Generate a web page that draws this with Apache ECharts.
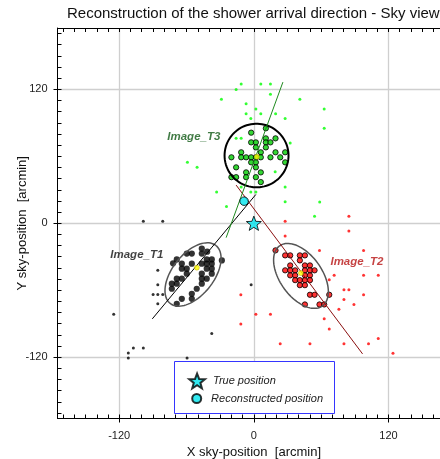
<!DOCTYPE html>
<html><head><meta charset="utf-8">
<script src="https://cdn.jsdelivr.net/npm/echarts@6/dist/echarts.min.js"></script>
<style>html,body{margin:0;padding:0;background:#fff}#c{width:440px;height:459px}</style>
</head><body><div id="c"></div>
<script>
const majorTicks = [-120, 0, 120];
const minorTicks = [-170,-160,-150,-140,-130,-120,-110,-100,-90,-80,-70,-60,-50,-40,-30,-20,-10,0,10,20,30,40,50,60,70,80,90,100,110,120,130,140,150,160,170];

const t1Pixels = [[-46.4,-22.7],[-41.6,-25.5],[-59.8,-27.2],[-55.3,-27.2],[-46.4,-27.2],
  [-72.0,-35.9],[-68.7,-32.4],[-42.0,-32.4],[-37.5,-32.4],[-28.5,-33.3],
  [-64.2,-36.2],[-55.3,-36.2],[-46.4,-36.2],[-42.0,-36.2],[-37.5,-36.2],
  [-64.2,-40.7],[-59.8,-40.7],[-42.0,-40.7],[-37.5,-40.7],
  [-59.8,-45.2],[-46.4,-45.2],[-37.5,-45.2],
  [-68.7,-49.7],[-64.2,-49.7],[-46.4,-49.7],[-42.0,-49.7],
  [-73.1,-54.2],[-68.7,-54.2],[-46.4,-54.2],
  [-73.1,-58.7],[-50.9,-58.7],[-55.3,-63.2],
  [-64.2,-67.7],[-55.3,-67.7],[-68.7,-72.2]];
const t1Noise = [[-98.5,1.8],[-81.2,1.8],[-85.6,-42.2],[-85.6,-55.1],[-89.8,-63.8],[-85.6,-63.8],[-81.2,-63.8],[-85.6,-72.2],[-124.9,-81.5],[-37.5,-98.9],[-107.4,-111.7],[-98.5,-111.7],[-111.9,-116.2],[-111.9,-120.7],[-59.5,-120.7],[-2.4,-55.1]];

const t2Pixels = [[19.3,-24.3],[27.9,-28.8],[32.4,-28.8],[41.0,-28.8],[45.5,-28.8],[41.0,-33.3],
  [32.4,-37.8],[45.5,-37.8],[50.0,-37.8],
  [27.9,-42.2],[32.4,-42.2],[36.8,-42.2],[45.5,-42.2],[50.0,-42.2],[54.1,-42.2],
  [32.4,-46.7],[36.8,-46.7],[45.5,-46.7],[50.0,-46.7],
  [36.8,-51.0],[41.0,-51.0],[45.5,-51.0],[50.0,-51.0],
  [41.0,-55.5],[45.5,-55.5],
  [50.0,-64.1],[54.1,-64.1],[67.2,-64.1],
  [45.5,-72.8],[58.5,-72.8],[62.7,-72.8]];
const t2Noise = [[84.7,6.3],[27.9,1.8],[84.7,-6.9],[27.9,-11.4],[58.5,-24.5],[97.8,-24.5],[71.6,-46.5],[97.8,-46.5],[110.9,-46.5],[67.2,-50.6],[80.3,-59.6],[84.7,-59.6],[-11.6,-64.1],[97.8,-64.1],[80.3,-68.3],[89.2,-72.8],[75.8,-77.0],[1.8,-81.5],[14.8,-81.5],[62.7,-85.7],[-11.6,-90.2],[67.2,-94.7],[110.9,-103.4],[102.2,-107.9],[23.5,-107.9],[50.0,-107.9],[80.3,-107.9],[124.0,-116.6]];

const t3Pixels = [[-2.4,81.2],[10.7,85.1],[-2.4,72.5],[1.8,72.5],[10.7,76.1],[10.7,72.5],[19.3,76.1],[14.8,72.5],[1.8,68.0],[10.7,68.0],[-11.3,63.6],[6.2,63.6],[19.3,63.6],[27.9,63.6],[-20.0,59.1],[-11.3,59.1],[-6.9,59.1],[-2.4,59.1],[1.8,59.1],[6.2,59.1],[14.8,59.1],[23.5,59.1],[-2.4,54.6],[1.8,54.6],[27.9,54.6],[-15.8,50.1],[1.8,50.1],[-6.9,45.6],[6.2,45.6],[-20.0,41.3],[-15.8,41.3],[-6.9,41.3],[1.8,41.3],[6.2,36.9]];
const t3Noise = [[-11.3,124.7],[6.2,124.7],[14.8,124.7],[-15.8,119.8],[14.8,115.7],[-28.9,111.2],[41.0,111.2],[-6.9,107.0],[1.8,102.5],[62.7,102.5],[-6.9,98.2],[6.2,98.2],[19.4,98.2],[-2.7,93.8],[27.9,93.8],[62.7,85.1],[32.4,71.9],[-15.8,76.1],[-11.3,76.1],[19.0,46.1],[-59.2,54.6],[-50.6,50.1],[-33.2,28.1],[-11.3,32.6],[-2.7,28.1],[1.8,28.1],[-24.4,15.0],[27.9,32.6],[27.9,19.3],[58.7,19.1],[54.1,6.3]];

const centroids = [[-50.8,-39.8],[41.9,-44.7],[2.7,59.6]];
const t1Axis = [[-90.5,-85.7],[1.8,25.8]];
const t2Axis = [[-15.8,34.2],[96.9,-117.1]];
const t3Axis = [[-24.7,-12.9],[25.9,126.5]];
// [centerX, centerY, semiMajor, semiMinor, angleDeg]
const ellipses = [[-54.2,-45.9,33,18.5,52],[42.0,-47.2,33,18.8,-55],[2.4,60.7,28.5,28.5,0]];
const imageLabels = [[-53.5,77.6,'Image_T3'],[-104.3,-28.7,'Image_T1'],[91.9,-34.7,'Image_T2']];
const truePos = [[0,0]];
const recoPos = [[-8.7,19.8]];

const FONT = "'Liberation Sans', Arial, Helvetica, sans-serif";
const STAR = 'path://M50 0 L62.34 33.01 L97.55 34.55 L69.97 56.49 L79.39 90.45 L50 71 L20.61 90.45 L30.03 56.49 L2.45 34.55 L37.66 33.01 Z';
const ellipseStyles = [{stroke:'#555',lineWidth:1.5},{stroke:'#555',lineWidth:1.5},{stroke:'#000',lineWidth:2}];
const labelColors = ['#125a16','#111111','#b81414'];

const G = {left:57.5, top:28, width:392.7, height:390.5, containLabel:false, outerBoundsMode:'none'};
const baseAxis = {type:'value', min:-175, max:175};
function frameAxis(gi, pos){
  return Object.assign({}, baseAxis, {gridIndex:gi, position:pos,
    axisLine:{show:true, onZero:false, lineStyle:{color:'#000', width:1}},
    axisTick:{show:true, inside:true, length:4, customValues:minorTicks, lineStyle:{color:'#000', width:1}},
    axisLabel:{show:false}, splitLine:{show:false}});
}
function labelAxis(pos, name, isY){
  return Object.assign({}, baseAxis, {gridIndex:1, position:pos,
    axisLine:{show:false, onZero:false},
    axisTick:{show:true, inside:false, length:4, customValues:majorTicks, lineStyle:{color:'#000', width:1}},
    axisLabel:{show:true, customValues:majorTicks, margin:isY?10:12, fontSize:11, color:'#222', fontFamily:FONT},
    splitLine:{show:true, lineStyle:{color:'#cfcfcf', width:1.3}},
    name:name, nameLocation:'middle', nameGap:isY?29:27, nameMoveOverlap:false,
    nameTextStyle:{fontSize:13, color:'#111', fontFamily:FONT}});
}

const chart = echarts.init(document.getElementById('c'), null, {renderer:'canvas'});
chart.setOption({
  animation:false,
  backgroundColor:'#fff',
  textStyle:{fontFamily:FONT},
  title:{text:'Reconstruction of the shower arrival direction - Sky view', left:67, top:6, padding:0,
    textStyle:{fontSize:15, fontWeight:'normal', color:'#111', fontFamily:FONT}},
  grid:[G, Object.assign({}, G)],
  xAxis:[frameAxis(0,'bottom'), frameAxis(0,'top'), labelAxis('bottom','X sky-position  [arcmin]', false)],
  yAxis:[frameAxis(0,'left'), frameAxis(0,'right'), labelAxis('left','Y sky-position  [arcmin]', true)],
  legend:[
    {data:['True position'], left:188.2, top:372.5, orient:'vertical', padding:0, itemWidth:21.8, itemHeight:15, z:8,
      textStyle:{fontStyle:'italic', fontSize:11, color:'#222', fontFamily:FONT}},
    {data:['Reconstructed position'], left:191.2, top:393, orient:'vertical', padding:0, itemWidth:18.8, itemHeight:9, z:8,
      textStyle:{fontStyle:'italic', fontSize:11, color:'#222', fontFamily:FONT}}
  ],
  graphic:[{type:'rect', left:174, top:361, shape:{width:160, height:52}, z:6,
    style:{fill:'#fff', stroke:'#3535ff', lineWidth:1}}],
  series:[
    {type:'scatter', name:'t1n', data:t1Noise, symbolSize:3, itemStyle:{color:'#000'}, z:2},
    {type:'scatter', name:'t2n', data:t2Noise, symbolSize:3, itemStyle:{color:'#ff0000'}, z:2},
    {type:'scatter', name:'t3n', data:t3Noise, symbolSize:3, itemStyle:{color:'#00ff00'}, z:2},
    {type:'scatter', name:'t1p', data:t1Pixels, symbolSize:6.2, itemStyle:{color:'#000'}, z:2},
    {type:'scatter', name:'t2p', data:t2Pixels, symbolSize:5.3, itemStyle:{color:'#ff0000', borderColor:'#000', borderWidth:1}, z:2},
    {type:'scatter', name:'t3p', data:t3Pixels, symbolSize:5.3, itemStyle:{color:'#00cc00', borderColor:'#000', borderWidth:1}, z:2},
    {type:'line', name:'a1', data:t1Axis, showSymbol:false, symbol:'none', lineStyle:{color:'#000', width:1}, z:3},
    {type:'line', name:'a2', data:t2Axis, showSymbol:false, symbol:'none', lineStyle:{color:'#8b1010', width:1}, z:3},
    {type:'line', name:'a3', data:t3Axis, showSymbol:false, symbol:'none', lineStyle:{color:'#1f8a1f', width:1}, z:3},
    {type:'custom', name:'ell', data:ellipses, z:3, silent:true,
      renderItem:function(params, api){
        const cx=api.value(0), cy=api.value(1), a=api.value(2), b=api.value(3), ang=api.value(4)*Math.PI/180;
        const pts=[];
        for(let i=0;i<=90;i++){
          const t=i/90*2*Math.PI, dx=a*Math.cos(t), dy=b*Math.sin(t);
          pts.push(api.coord([cx+dx*Math.cos(ang)-dy*Math.sin(ang), cy+dx*Math.sin(ang)+dy*Math.cos(ang)]));
        }
        const s=ellipseStyles[params.dataIndex];
        return {type:'polyline', shape:{points:pts}, style:{stroke:s.stroke, lineWidth:s.lineWidth, fill:null}};
      }},
    {type:'scatter', name:'cen', data:centroids, symbolSize:5, itemStyle:{color:'#ffff00', borderColor:'#b89a00', borderWidth:0.5}, z:4},
    {type:'scatter', name:'lbl', data:imageLabels.map(function(d,i){return {value:d, label:{color:labelColors[i]}};}),
      symbolSize:0, silent:true, z:5,
      label:{show:true, position:'inside', formatter:function(p){return p.value[2];},
        fontSize:11.5, fontWeight:'bold', fontStyle:'italic', fontFamily:FONT, textBorderWidth:0},
      itemStyle:{color:'transparent'}},
    {type:'scatter', name:'Reconstructed position', data:recoPos, symbol:'circle', symbolSize:8.5,
      itemStyle:{color:'#00e5ee', borderColor:'#000', borderWidth:1}, z:6},
    {type:'scatter', name:'True position', data:truePos, symbol:STAR, symbolSize:15, symbolKeepAspect:true,
      itemStyle:{color:'#00e5ee', borderColor:'#000', borderWidth:1}, z:6}
  ]
});
</script>
</body></html>
